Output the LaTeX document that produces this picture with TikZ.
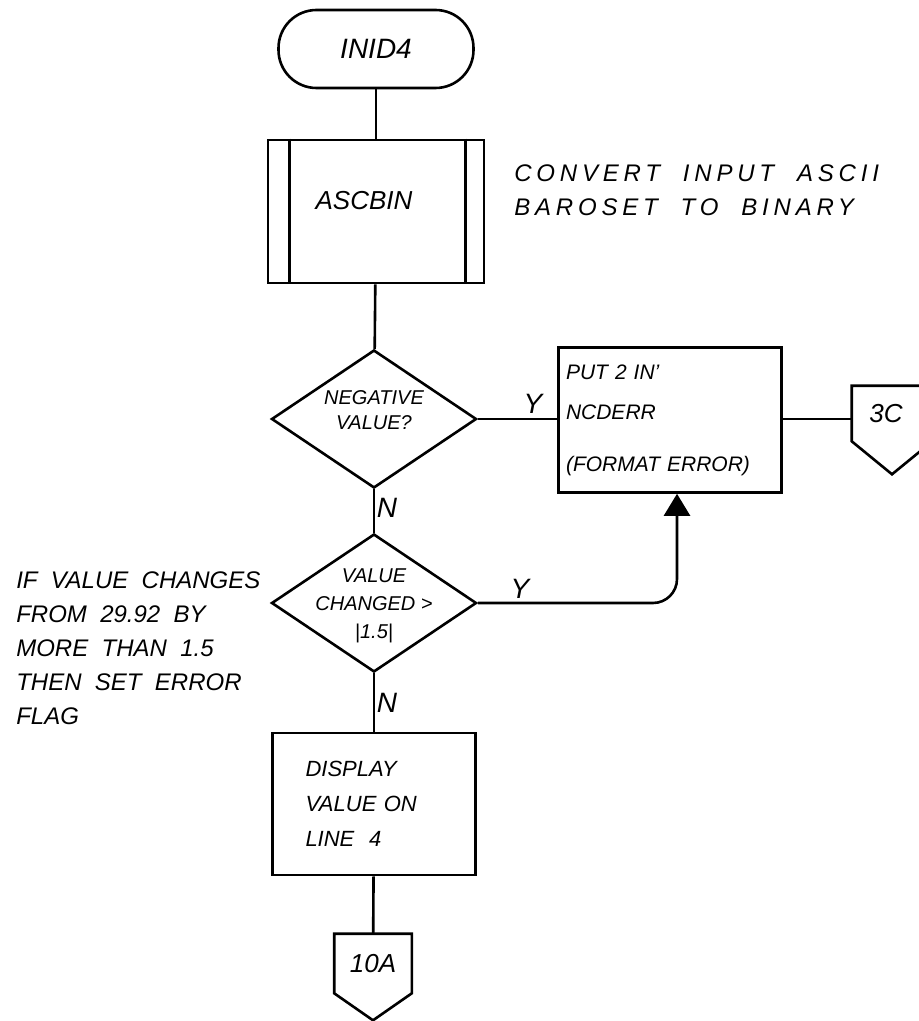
\documentclass[tikz,border=0pt]{standalone}
\usepackage{fontspec}
\setsansfont{Liberation Sans}
\newfontfamily\spaced{Liberation Sans}[LetterSpace=20]
\usetikzlibrary{shapes.geometric,arrows.meta}

\tikzset{
	box/.style={draw,rectangle,inner sep=0pt},
	decide/.style={draw,diamond,inner sep=0pt,minimum width=102.5pt,minimum height=69pt},
	offpage/.style={rectangle,inner sep=0pt,font=\sffamily\itshape\fontsize{13}{13}\selectfont},
	yn/.style={font=\sffamily\itshape\fontsize{14}{14}\selectfont},
	note/.style={align=left,inner sep=0pt,font=\sffamily\itshape\fontsize{12}{17}\selectfont}
}

\begin{document}
\begin{tikzpicture}[x=0.5pt,y=-0.5pt,line width=1.3pt]
		\useasboundingbox (0,0) rectangle (918,1021);
		% main column
		\node[box,rounded corners=19pt,minimum width=97.5pt,minimum height=39pt,
			font=\sffamily\itshape\fontsize{14}{14}\selectfont] (start) at (376,49) {\raisebox{-2pt}{INID4}};
		\node[box,minimum width=108pt,minimum height=71.5pt,
			label={[xshift=-6pt,yshift=5.5pt,font=\sffamily\itshape\fontsize{13}{13}\selectfont]center:ASCBIN}] (ascbin) at (376,211.5) {};
		\draw ([xshift=11.5pt]ascbin.north west)--([xshift=11.5pt]ascbin.south west);
		\draw ([xshift=-10pt]ascbin.north east)--([xshift=-10pt]ascbin.south east);
		\node[decide,label={[align=center,yshift=4.5pt,font=\sffamily\itshape\fontsize{10}{12.5}\selectfont]center:NEGATIVE\\VALUE?}] (neg) at (374,419) {};
		\node[decide,label={[align=center,yshift=-1.5pt,font=\sffamily\itshape\fontsize{10}{14}\selectfont]center:VALUE\\CHANGED >\\|1.5|}] (chg) at (374,603) {};
		\node[box,minimum width=101.5pt,minimum height=71pt,text width=68.5pt,align=left,
			font=\sffamily\itshape\fontsize{11}{17.5}\selectfont] (disp) at (374,804) {DISPLAY\\VALUE ON\\LINE~~4};
		\node[offpage,minimum width=37.5pt,minimum height=28.5pt] (p10) at (373,963.5) {10A};
		\draw (p10.north west)--(p10.north east)--(p10.south east)--([yshift=-13.5pt]p10.south)--(p10.south west)--cycle;
		% error branch
		\node[box,minimum width=111.5pt,minimum height=72.5pt,text width=104pt,align=left,
			font=\sffamily\itshape\fontsize{10.5}{20}\selectfont] (put) at (670,420) {PUT 2 IN'\\NCDERR\\[6pt](FORMAT ERROR)};
		\node[offpage,minimum width=39pt,minimum height=26.5pt] (p3) at (892,413.5) {\hspace*{-6pt}\raisebox{-2pt}{3C}};
		\draw (p3.north west)--(p3.north east)--(p3.south east)--([yshift=-16.5pt]p3.south)--(p3.south west)--cycle;
		% comments
		\node[note,anchor=west,font=\spaced\itshape\fontsize{12}{17}\selectfont] (convnote) at (513,190) {CONVERT~~INPUT~~ASCII\\BAROSET~~TO~~BINARY};
		\node[note,anchor=west] (flagnote) at (15,648) {IF~~VALUE~~CHANGES\\FROM~~29.92~~BY\\MORE~~THAN~~1.5\\THEN~~SET~~ERROR\\FLAG};
		% flow lines
		\draw (start)--(ascbin);
		\draw (ascbin)--(neg);
		\draw (neg)--(chg);
		\draw (chg)--(disp);
		\draw (disp)--(p10);
		\draw (neg.east)--(neg.east-|put.west);
		\draw (put.east|-neg)--(p3.west|-neg);
		\draw[-{Triangle[length=11pt,width=13pt]},rounded corners=12pt] (chg.east)-|([xshift=3.5pt]put.south);
		\node[yn] (y1) at (533,404) {Y};
		\node[yn] (y2) at (520,589) {Y};
		\node[yn] (n1) at (387,508) {N};
		\node[yn] (n2) at (387,703) {N};
\end{tikzpicture}
\end{document}
